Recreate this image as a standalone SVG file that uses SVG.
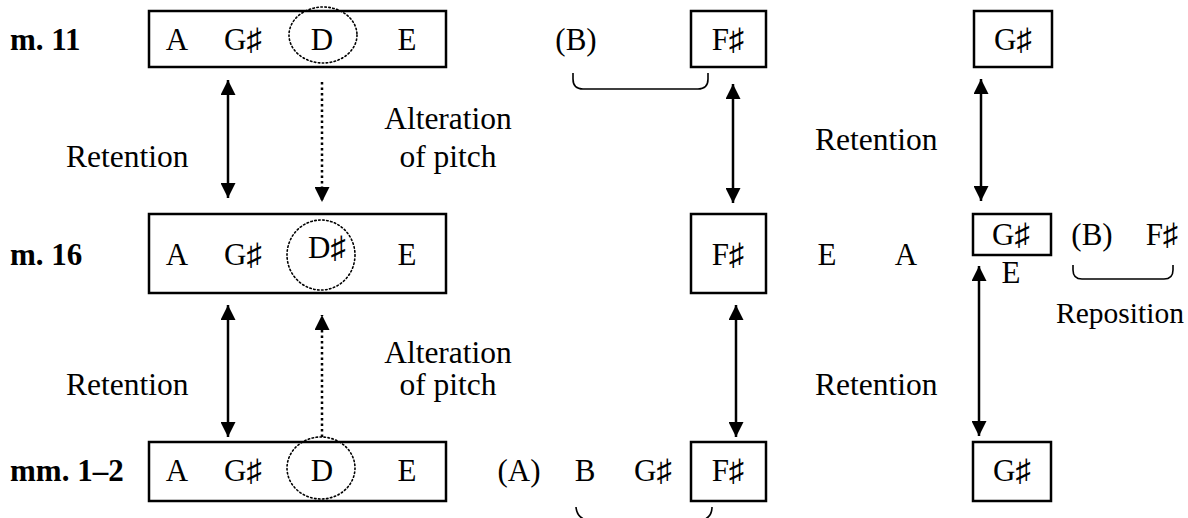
<svg xmlns="http://www.w3.org/2000/svg" width="1188" height="518" viewBox="0 0 1188 518" font-family="'Liberation Serif', 'Times New Roman', Tinos, 'DejaVu Serif', serif">
<style>
text{font-family:"Liberation Serif","Times New Roman",Tinos,"Noto Serif","DejaVu Serif",serif;font-size:31px;fill:#000}
.b{font-weight:bold}
.m{text-anchor:middle}
.lbl{font-size:31.5px}
.rp{font-size:29.5px}
.box{fill:none;stroke:#000;stroke-width:2.5}
.ell{fill:none;stroke:#000;stroke-width:1.6;stroke-dasharray:1.5 2.5;stroke-linecap:round}
.sol{fill:none;stroke:#000;stroke-width:2.5}
.dot{fill:none;stroke:#000;stroke-width:2.5;stroke-dasharray:2.5 3}
.br{fill:none;stroke:#000;stroke-width:1.6}
</style>
<defs>
<marker id="ah" viewBox="0 0 16 15" refX="15" refY="7.5" markerWidth="16" markerHeight="15" markerUnits="userSpaceOnUse" orient="auto-start-reverse">
<path d="M0,0 L15,7.5 L0,15 Z" fill="#000"/>
</marker>
</defs>
<g id="labels">
<text class="b" x="10" y="50">m. 11</text>
<text class="b" x="10" y="265">m. 16</text>
<text class="b" x="10" y="481">mm. 1–2</text>
</g>
<g id="row-m11">
<rect class="box" x="149" y="11" width="297" height="56"/>
<text class="m" x="177" y="50">A</text>
<text class="m" x="243" y="50">G♯</text>
<text class="m" x="322" y="50">D</text>
<text class="m" x="407" y="50">E</text>
<ellipse class="ell" cx="323" cy="35" rx="34" ry="28"/>
</g>
<g id="m11-B"><text class="m" x="576" y="50">(B)</text></g>
<g id="m11-Fs"><rect class="box" x="691" y="11" width="75" height="56"/><text class="m" x="728" y="50">F♯</text></g>
<g id="m11-Gs"><rect class="box" x="974" y="11" width="78" height="56"/><text class="m" x="1013" y="50">G♯</text></g>
<g id="row-m16">
<rect class="box" x="149" y="214" width="297" height="79"/>
<text class="m" x="177" y="265">A</text>
<text class="m" x="243" y="265">G♯</text>
<text class="m" x="327" y="258">D♯</text>
<text class="m" x="407" y="265">E</text>
<ellipse class="ell" cx="321" cy="255" rx="34" ry="35"/>
</g>
<g id="m16-Fs"><rect class="box" x="691" y="214" width="75" height="79"/><text class="m" x="728" y="265">F♯</text></g>
<g id="m16-E"><text class="m" x="827" y="265">E</text></g>
<g id="m16-A"><text class="m" x="906" y="265">A</text></g>
<g id="m16-Gs"><rect class="box" x="973" y="214" width="78" height="41"/><text class="m" x="1011" y="245">G♯</text></g>
<g id="m16-E2"><text class="m" x="1011" y="283">E</text></g>
<g id="m16-B"><text class="m" x="1092" y="245">(B)</text></g>
<g id="m16-Fs2"><text class="m" x="1162" y="245">F♯</text></g>
<g id="m16-repos"><text class="m rp" x="1120" y="323">Reposition</text></g>
<g id="row-mm12">
<rect class="box" x="149" y="442" width="297" height="59"/>
<text class="m" x="177" y="481">A</text>
<text class="m" x="243" y="481">G♯</text>
<text class="m" x="322" y="481">D</text>
<text class="m" x="407" y="481">E</text>
<ellipse class="ell" cx="321" cy="468" rx="34" ry="31"/>
</g>
<g id="mm12-A"><text class="m" x="519" y="481">(A)</text></g>
<g id="mm12-B"><text class="m" x="585" y="481">B</text></g>
<g id="mm12-Gs"><text class="m" x="653" y="481">G♯</text></g>
<g id="mm12-Fs"><rect class="box" x="691" y="442" width="75" height="59"/><text class="m" x="728" y="481">F♯</text></g>
<g id="mm12-Gs2"><rect class="box" x="973" y="442" width="78" height="59"/><text class="m" x="1012" y="481">G♯</text></g>
<g id="annotations">
<text class="lbl" x="66" y="167">Retention</text>
<text class="lbl" x="66" y="395">Retention</text>
<text class="m lbl" x="448" y="129">Alteration</text>
<text class="m lbl" x="448" y="167">of pitch</text>
<text class="m lbl" x="448" y="363">Alteration</text>
<text class="m lbl" x="448" y="395">of pitch</text>
<text class="lbl" x="815" y="150">Retention</text>
<text class="lbl" x="815" y="395">Retention</text>
</g>
<g id="connectors">
<line class="sol" x1="228" y1="80" x2="228" y2="198" marker-start="url(#ah)" marker-end="url(#ah)"/>
<line class="sol" x1="228" y1="305" x2="228" y2="437" marker-start="url(#ah)" marker-end="url(#ah)"/>
<line class="dot" x1="322" y1="82" x2="322" y2="202" marker-end="url(#ah)"/>
<line class="dot" x1="322" y1="437" x2="322" y2="315" marker-end="url(#ah)"/>
<line class="sol" x1="733" y1="84" x2="733" y2="203" marker-start="url(#ah)" marker-end="url(#ah)"/>
<line class="sol" x1="736" y1="305" x2="736" y2="437" marker-start="url(#ah)" marker-end="url(#ah)"/>
<line class="sol" x1="981" y1="79" x2="981" y2="201" marker-start="url(#ah)" marker-end="url(#ah)"/>
<line class="sol" x1="979" y1="266" x2="979" y2="436" marker-start="url(#ah)" marker-end="url(#ah)"/>
<path class="br" d="M573,73 V79 Q573,89 583,89 H698 Q708,89 708,79 V73"/>
<path class="br" d="M1073,265 V270 Q1073,279 1082,279 H1164 Q1173,279 1173,270 V265"/>
<path class="br" d="M576,507 Q577,520 592,521 H697 Q712,520 712,507"/>
</g>
</svg>
